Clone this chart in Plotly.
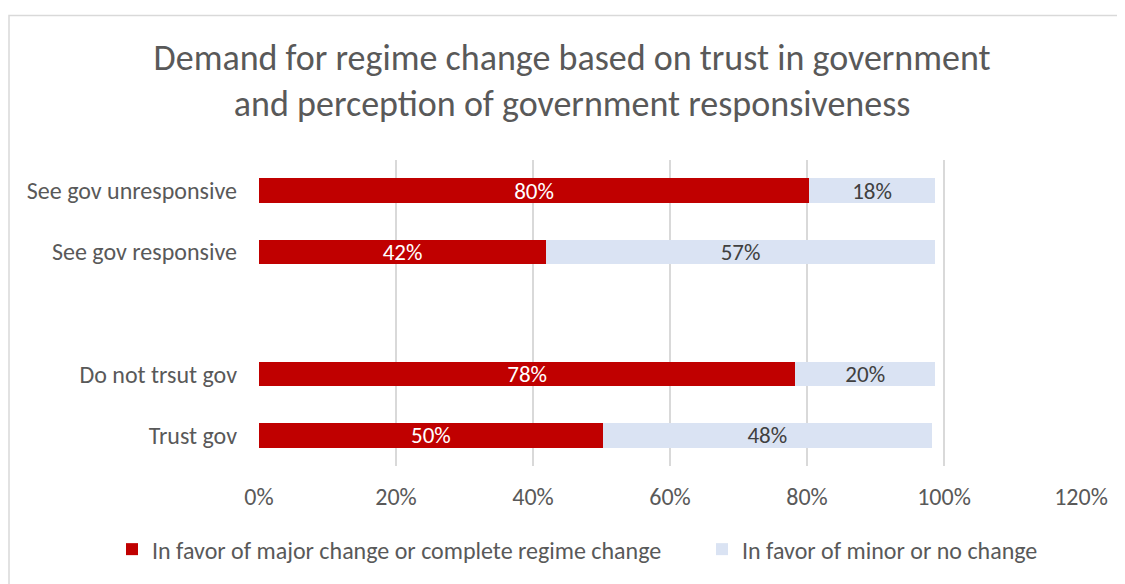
import plotly.graph_objects as go

categories = ["See gov unresponsive", "See gov responsive", "Do not trsut gov", "Trust gov"]
major_change = [0.803, 0.419, 0.783, 0.502]
minor_change = [0.184, 0.568, 0.204, 0.480]
series_names = ["In favor of major change or complete regime change", "In favor of minor or no change"]
tick_vals = [0, 0.2, 0.4, 0.6, 0.8, 1.0, 1.2]
tick_text = ["0%", "20%", "40%", "60%", "80%", "100%", "120%"]
gap_label = " "

FONT = "Carlito, Calibri, Lato, sans-serif"

fig = go.Figure()
fig.add_trace(go.Bar(
    y=categories, x=major_change, orientation="h", name=series_names[0],
    marker=dict(color="#C00000", line=dict(width=0)),
    texttemplate="%{x:.0%}", textposition="inside", insidetextanchor="middle",
    constraintext="none", legend="legend",
    textfont=dict(color="white", size=23, family=FONT),
))
fig.add_trace(go.Bar(
    y=categories, x=minor_change, orientation="h", name=series_names[1],
    marker=dict(color="#DAE3F3", line=dict(width=0)),
    texttemplate="%{x:.0%}", textposition="inside", insidetextanchor="middle",
    constraintext="none", legend="legend2",
    textfont=dict(color="#404040", size=23, family=FONT),
))

legend_common = dict(orientation="h", xanchor="left", y=-0.273, yanchor="middle",
                     font=dict(size=24, color="#595959"), itemwidth=30,
                     bgcolor="rgba(0,0,0,0)")

PW = 822
fig.update_layout(
    width=1117, height=576,
    barmode="stack", bargap=0.6,
    plot_bgcolor="white", paper_bgcolor="white",
    font=dict(family=FONT, color="#595959", size=24),
    margin=dict(l=251, r=44, t=152, b=116),
    title=dict(
        text="Demand for regime change based on trust in government<br>and perception of government responsiveness",
        x=0.505, xanchor="center", xref="container", y=0.893, yanchor="top", yref="container",
        font=dict(size=36, color="#595959", family=FONT),
    ),
    xaxis=dict(range=[0, 1.2], tickvals=tick_vals, ticktext=tick_text, showgrid=True,
               gridcolor="#D9D9D9", gridwidth=1.5, zeroline=False, showline=False,
               ticks="", ticklabelstandoff=14, tickfont=dict(size=24, color="#595959")),
    yaxis=dict(type="category", categoryorder="array",
               categoryarray=[categories[3], categories[2], gap_label, categories[1], categories[0]],
               showgrid=False, ticks="", ticklabelstandoff=21, tickfont=dict(size=24, color="#595959")),
    legend=dict(x=(104 - 251) / PW, **legend_common),
    legend2=dict(x=(694 - 251) / PW, **legend_common),
    showlegend=True,
)
fig.add_shape(type="rect", xref="paper", yref="paper",
              x0=-250 / PW, x1=1.2, y0=-0.6, y1=1 + 145.5 / 308,
              line=dict(color="#D9D9D9", width=1.5), fillcolor="rgba(0,0,0,0)", layer="below")

fig.write_html("out.html")
